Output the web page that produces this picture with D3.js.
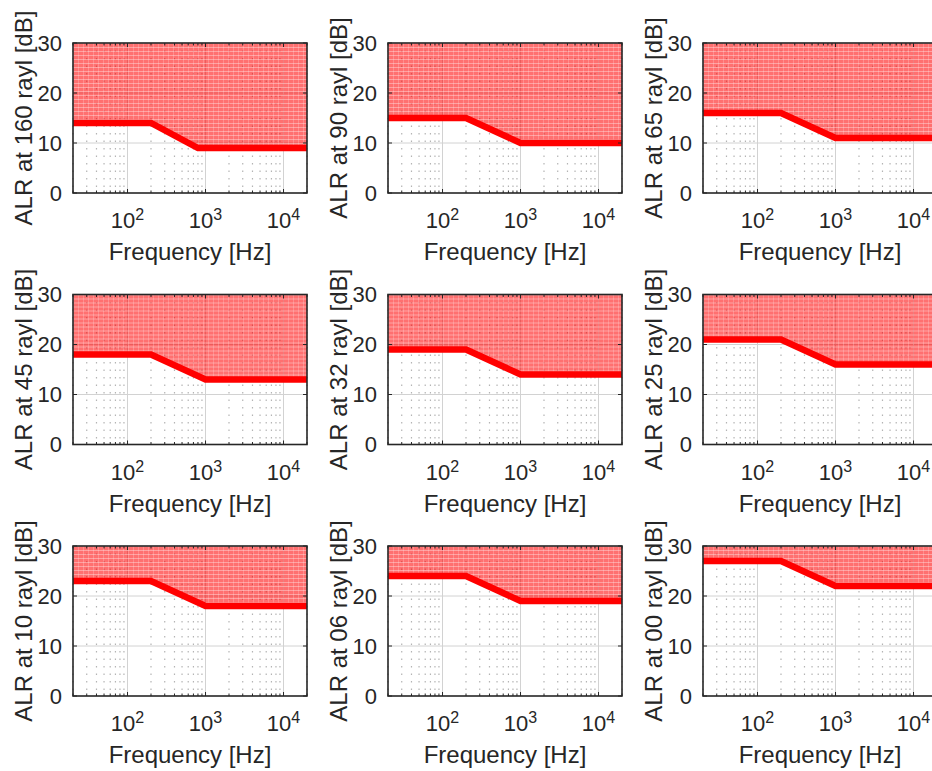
<!DOCTYPE html>
<html>
<head>
<meta charset="utf-8">
<script src="https://cdn.jsdelivr.net/npm/d3@7"></script>
<style>
  html, body { margin: 0; padding: 0; background: #fff; }
  svg { display: block; }
  text { font-family: "Liberation Sans", Arial, Helvetica, sans-serif; fill: #262626; }
</style>
</head>
<body>
<svg id="chart" width="932" height="771"></svg>
<script>
// ---- data ----
const yLabels = ["ALR at 160 rayl [dB]", "ALR at 90 rayl [dB]", "ALR at 65 rayl [dB]",
                 "ALR at 45 rayl [dB]", "ALR at 32 rayl [dB]", "ALR at 25 rayl [dB]",
                 "ALR at 10 rayl [dB]", "ALR at 06 rayl [dB]", "ALR at 00 rayl [dB]"];
const lowFreqLevel  = [14, 15, 16, 18, 19, 21, 23, 24, 27];
const highFreqLevel = [9, 10, 11, 13, 14, 16, 18, 19, 22];
const kneeStartHz   = [200, 200, 200, 200, 200, 200, 200, 200, 200];
const kneeEndHz     = [800, 1000, 1000, 1000, 1000, 1000, 1000, 1000, 1000];
const freqDomain    = [20, 20000];
const yDomain       = [0, 30];
const yTicks        = [0, 10, 20, 30];
const xMajorTicks   = [100, 1000, 10000];
const xTickExponents = ["2", "3", "4"];
const xLabel = "Frequency [Hz]";

// ---- layout ----
const svg = d3.select("#chart");
const W = 234, H = 150;
const left0 = 73, top0 = 43, colStep = 315, rowStep = 251.5;
const textColor = "#262626";

const defs = svg.append("defs");
const pat = defs.append("pattern").attr("id", "hatch").attr("patternUnits", "userSpaceOnUse")
  .attr("width", 5).attr("height", 4);
pat.append("rect").attr("width", 5).attr("height", 4).attr("fill", "rgba(255,0,0,0.56)");
pat.append("rect").attr("x", 0).attr("y", 0).attr("width", 5).attr("height", 1).attr("fill", "rgba(255,255,255,0.35)");
pat.append("rect").attr("x", 0).attr("y", 0).attr("width", 1).attr("height", 4).attr("fill", "rgba(255,255,255,0.2)");

// minor ticks for log axis
const minorTicks = [];
[10, 100, 1000, 10000].forEach(dec => {
  for (let m = 2; m <= 9; m++) {
    const v = dec * m;
    if (v >= freqDomain[0] && v <= freqDomain[1]) minorTicks.push(v);
  }
});

yLabels.forEach((lab, i) => {
  const col = i % 3, row = Math.floor(i / 3);
  const x0 = left0 + col * colStep, y0 = top0 + row * rowStep;
  const g = svg.append("g").attr("transform", `translate(${x0},${y0})`);
  const x = d3.scaleLog().domain(freqDomain).range([0, W]);
  const y = d3.scaleLinear().domain(yDomain).range([H, 0]);

  const clipId = "clip" + i;
  defs.append("clipPath").attr("id", clipId).append("rect").attr("width", W).attr("height", H);

  // minor grid (dotted)
  g.append("g").selectAll("line").data(minorTicks).join("line")
    .attr("x1", d => x(d)).attr("x2", d => x(d)).attr("y1", 0).attr("y2", H)
    .attr("stroke", "#b4b4b4").attr("stroke-width", 1.2).attr("stroke-dasharray", "1.5,6");
  // major grid
  g.append("g").selectAll("line").data(xMajorTicks).join("line")
    .attr("x1", d => x(d)).attr("x2", d => x(d)).attr("y1", 0).attr("y2", H)
    .attr("stroke", "#d2d2d2").attr("stroke-width", 1);
  g.append("g").selectAll("line").data(yTicks.slice(1, -1)).join("line")
    .attr("x1", 0).attr("x2", W).attr("y1", d => y(d)).attr("y2", d => y(d))
    .attr("stroke", "#d2d2d2").attr("stroke-width", 1);

  const pts = [[freqDomain[0], lowFreqLevel[i]], [kneeStartHz[i], lowFreqLevel[i]],
               [kneeEndHz[i], highFreqLevel[i]], [freqDomain[1], highFreqLevel[i]]];

  const area = d3.area().x(d => x(d[0])).y0(y(yDomain[1])).y1(d => y(d[1]));
  g.append("path").datum(pts).attr("d", area).attr("fill", "url(#hatch)")
    .attr("clip-path", `url(#${clipId})`);

  const line = d3.line().x(d => x(d[0])).y(d => y(d[1]));
  g.append("path").datum(pts).attr("d", line).attr("fill", "none")
    .attr("stroke", "#ff0000").attr("stroke-width", 6.5).attr("stroke-linejoin", "miter");

  // ticks (inside)
  const tk = g.append("g").attr("stroke", textColor).attr("stroke-width", 1);
  xMajorTicks.forEach(t => {
    tk.append("line").attr("x1", x(t)).attr("x2", x(t)).attr("y1", H).attr("y2", H - 4);
    tk.append("line").attr("x1", x(t)).attr("x2", x(t)).attr("y1", 0).attr("y2", 4);
  });
  minorTicks.forEach(t => {
    tk.append("line").attr("x1", x(t)).attr("x2", x(t)).attr("y1", H).attr("y2", H - 2.5);
    tk.append("line").attr("x1", x(t)).attr("x2", x(t)).attr("y1", 0).attr("y2", 2.5);
  });
  yTicks.forEach(t => {
    tk.append("line").attr("x1", 0).attr("x2", 4).attr("y1", y(t)).attr("y2", y(t));
    tk.append("line").attr("x1", W).attr("x2", W - 4).attr("y1", y(t)).attr("y2", y(t));
  });

  // box
  g.append("rect").attr("width", W).attr("height", H).attr("fill", "none")
    .attr("stroke", textColor).attr("stroke-width", 1.6);

  // y tick labels
  g.append("g").selectAll("text").data(yTicks).join("text")
    .attr("x", -11).attr("y", d => y(d)).attr("dy", "0.36em")
    .attr("text-anchor", "end").attr("font-size", 22).text(d => d);

  // x tick labels
  xMajorTicks.forEach((t, k) => {
    const tx = g.append("text").attr("x", x(t)).attr("y", H + 35)
      .attr("text-anchor", "middle").attr("font-size", 22);
    tx.append("tspan").text("10");
    tx.append("tspan").attr("font-size", 16).attr("dy", -8).text(xTickExponents[k]);
  });

  // axis labels
  g.append("text").attr("x", W / 2).attr("y", H + 67).attr("text-anchor", "middle")
    .attr("font-size", 24).text(xLabel);
  g.append("text").attr("transform", `translate(-41,${H / 2}) rotate(-90)`)
    .attr("text-anchor", "middle").attr("font-size", 24).text(lab);
});
</script>
</body>
</html>
